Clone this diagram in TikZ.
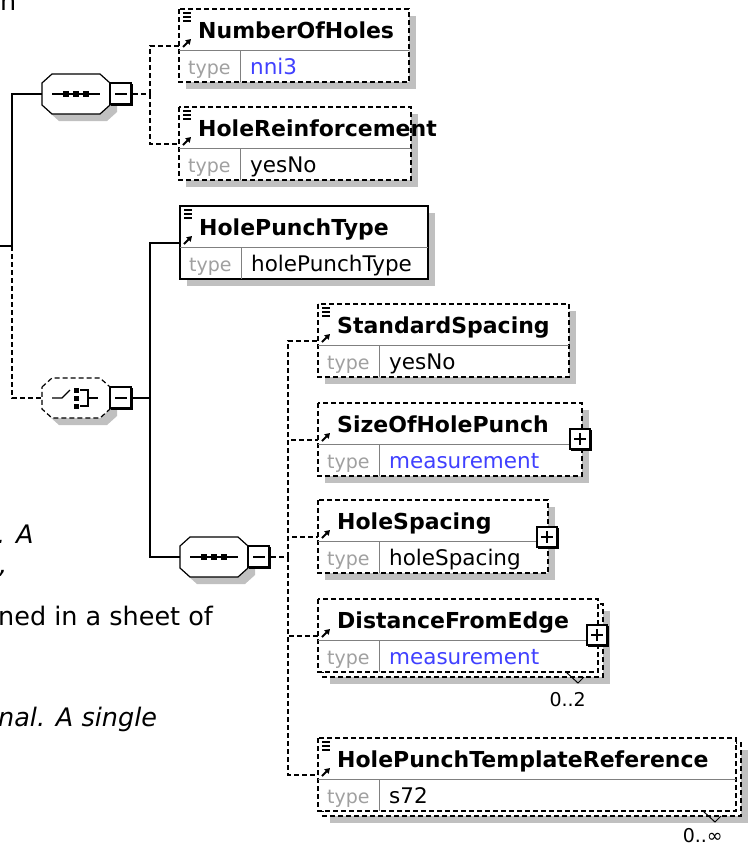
\documentclass[tikz,border=0pt]{standalone}
\usepackage{fontspec}
\setmainfont{DejaVu Sans}
\usetikzlibrary{arrows.meta}

\definecolor{shadowgray}{RGB}{192,192,192}
\definecolor{lingray}{RGB}{128,128,128}
\definecolor{typegray}{RGB}{160,160,160}
\definecolor{valblue}{RGB}{64,64,255}

\tikzset{
  optline/.style={line width=1.2pt,dash pattern=on 5pt off 3pt},
  reqline/.style={line width=1.2pt},
  shade/.style={fill=shadowgray},
  elname/.style={anchor=base west,inner sep=0pt,font=\fontsize{22}{26}\selectfont\bfseries},
  eltype/.style={anchor=base west,inner sep=0pt,text=typegray,font=\fontsize{19}{22}\selectfont},
  elval/.style={anchor=base west,inner sep=0pt,font=\fontsize{21.5}{25}\selectfont},
  doctext/.style={anchor=base west,inner sep=0pt,font=\fontsize{25.5}{30}\selectfont},
  doctextit/.style={doctext,font=\fontsize{25.5}{30}\selectfont\itshape},
  occurs/.style={anchor=base east,inner sep=0pt,font=\fontsize{19}{22}\selectfont},
}

% element box: id, left, top, right, name, value, value colour, border
\newcommand{\elembox}[8]{%
  \filldraw[fill=white,#8] (#2,#3) rectangle (#4,#3+73);
  \draw[lingray,line width=1pt] (#2,#3+41) -- (#4,#3+41);
  \draw[lingray,line width=1pt] (#2+61,#3+41) -- (#2+61,#3+73);
  \draw[line width=2pt,-{Triangle[length=5pt,width=6pt]}] (#2+4,#3+38) -- (#2+12,#3+30);
  \node[elname] (#1) at (#2+19,#3+29) {#5};
  \node[eltype] (#1-type) at (#2+9,#3+65) {type};
  \node[elval,text=#7] (#1-val) at (#2+71,#3+65) {#6};
  \coordinate (#1-in) at (#2,#3+37);
}
\newcommand{\simpleicon}[2]{%
  \foreach \dy in {4,8,12} \draw[line width=1.2pt] (#1+4,#2+\dy) -- (#1+12,#2+\dy);
}
\newcommand{\plusbox}[2]{%
  \filldraw[fill=white,line width=1.2pt] (#1,#2) rectangle (#1+20,#2+20);
  \draw[line width=2.5pt] (#1+21,#2+1) -- (#1+21,#2+21) -- (#1+1,#2+21);
  \draw[line width=1.2pt] (#1+4,#2+10) -- (#1+16,#2+10) (#1+10,#2+4) -- (#1+10,#2+16);
}
\newcommand{\octpath}[2]{(#1,#2-11) -- (#1+10,#2-20) -- (#1+58,#2-20) -- (#1+68,#2-11)
  -- (#1+68,#2+11) -- (#1+58,#2+20) -- (#1+10,#2+20) -- (#1,#2+11) -- cycle}
% compositor: id, left, centre y, border
\newcommand{\compositor}[4]{%
  \fill[shade,shift={(7,7)}] \octpath{#2}{#3};
  \filldraw[fill=white,#4] \octpath{#2}{#3};
  \filldraw[fill=white,line width=1.2pt] (#2+68,#3-11) rectangle (#2+89,#3+10);
  \draw[line width=2.5pt] (#2+90,#3-10) -- (#2+90,#3+11) -- (#2+69,#3+11);
  \draw[line width=1.2pt] (#2+73,#3) -- (#2+85,#3);
  \coordinate (#1-in) at (#2,#3);
  \coordinate (#1-out) at (#2+91,#3);
}
\newcommand{\seqsym}[2]{%
  \draw[line width=1.2pt] (#1+10,#2) -- (#1+58,#2);
  \foreach \dx in {21,31,41} \fill (#1+\dx,#2-3) rectangle (#1+\dx+6,#2+3);
}
\newcommand{\choicesym}[2]{%
  \draw[line width=1.2pt] (#1+10,#2) -- (#1+20,#2) -- (#1+28,#2-8);
  \foreach \dy in {-10,-2,6} \fill (#1+32,#2+\dy) rectangle (#1+37,#2+\dy+5);
  \draw[line width=1.2pt] (#1+38,#2-8) -- (#1+46,#2-8) -- (#1+46,#2+8) -- (#1+38,#2+8)
    (#1+46,#2) -- (#1+56,#2);
}

\begin{document}
\begin{tikzpicture}[x=1pt,y=-1pt]
  \useasboundingbox[fill=white] (0,0) rectangle (747,846);

  \node[doctext] (t0) at (0,10) {n};
  \node[doctextit] (t1) at (-3,543) {. A};
  \node[doctextit] (t2) at (-1,573) {,};
  \node[doctext] (t3) at (-2,625) {ned in a sheet of};
  \node[doctextit] (t4) at (-2,726) {nal. A single};

  \foreach \l/\t/\r in {179/9/409, 179/107/411, 180/206/428, 318/304/569,
      318/403/582, 318/500/548, 323/604/603, 323/743/741}
    \fill[shade] (\l+7,\t+7) rectangle (\r+7,\t+80);
  \filldraw[fill=white,optline] (323,604) rectangle (603,677);
  \filldraw[fill=white,optline] (323,743) rectangle (741,816);

  \compositor{seqA}{42}{94}{reqline}
  \seqsym{42}{94}
  \compositor{choice}{42}{398}{optline}
  \choicesym{42}{398}
  \compositor{seqB}{180}{557}{reqline}
  \seqsym{180}{557}

  \elembox{nh}{179}{9}{409}{NumberOfHoles}{nni3}{valblue}{optline}
  \simpleicon{179}{9}
  \elembox{hr}{179}{107}{411}{HoleReinforcement}{yesNo}{black}{optline}
  \simpleicon{179}{107}
  \elembox{hpt}{180}{206}{428}{HolePunchType}{holePunchType}{black}{reqline}
  \simpleicon{180}{206}
  \elembox{ss}{318}{304}{569}{StandardSpacing}{yesNo}{black}{optline}
  \simpleicon{318}{304}
  \elembox{sh}{318}{403}{582}{SizeOfHolePunch}{measurement}{valblue}{optline}
  \plusbox{570}{429}
  \elembox{hs}{318}{500}{548}{HoleSpacing}{holeSpacing}{black}{optline}
  \plusbox{537}{527}
  \elembox{de}{318}{599}{598}{DistanceFromEdge}{measurement}{valblue}{optline}
  \plusbox{587}{625}
  \elembox{ptr}{318}{738}{736}{HolePunchTemplateReference}{s72}{black}{optline}
  \simpleicon{318}{738}

  \draw[line width=1pt] (566,672) -- (578,683) -- (584,677);
  \node[occurs] (de-occ) at (586,706) {0..2};
  \draw[line width=1pt] (703,811) -- (715,822) -- (721,816);
  \node[occurs] (ptr-occ) at (723,842) {0..∞};

  \coordinate (root) at (0,246);
  \coordinate (j0) at (12,246);
  \draw[reqline] (root) -- (j0) |- (seqA-in);
  \draw[optline] (j0) |- (choice-in);
  \coordinate (busA) at (150,94);
  \draw[optline] (seqA-out) -- (busA);
  \draw[optline] (busA) |- (nh-in);
  \draw[optline] (busA) |- (hr-in);
  \coordinate (busB) at (150,398);
  \draw[reqline] (choice-out) -- (busB) |- (hpt-in);
  \draw[reqline] (busB) |- (seqB-in);
  \coordinate (busC) at (288,557);
  \draw[optline] (seqB-out) -- (busC);
  \foreach \e in {ss,sh,hs,de,ptr} \draw[optline] (busC) |- (\e-in);
\end{tikzpicture}
\end{document}
